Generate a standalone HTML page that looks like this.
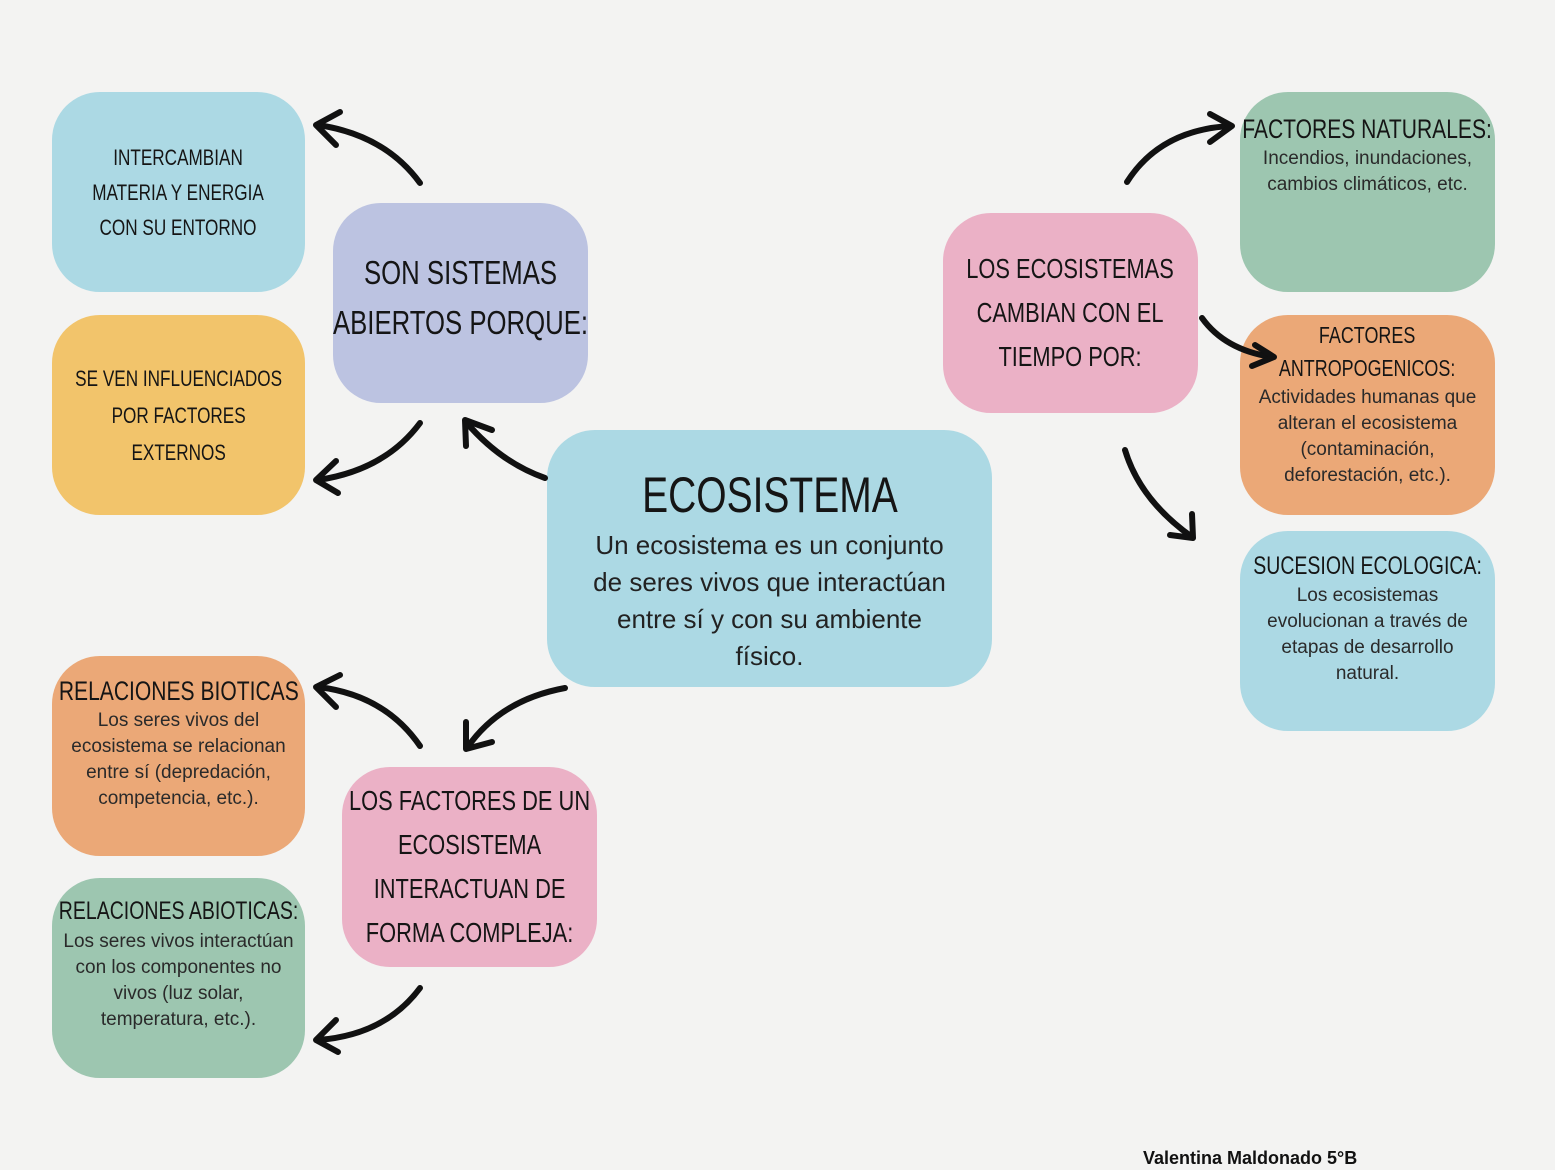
<!DOCTYPE html>
<html><head><meta charset="utf-8"><style>
html,body{margin:0;padding:0}
body{width:1555px;height:1170px;position:relative;overflow:hidden;background:#f3f3f2;font-family:"Liberation Sans",sans-serif;color:#1a1a1a}
.b{position:absolute;border-radius:48px;display:flex;flex-direction:column;align-items:center;justify-content:center;text-align:center;box-sizing:border-box}
.h{font-family:"Liberation Sans",sans-serif;text-transform:uppercase;color:#151515;white-space:nowrap}
.h span{display:inline-block;transform:scaleX(.78);white-space:nowrap}
.p{font-size:19px;line-height:26px;color:#2a2a2a;white-space:nowrap}
svg{position:absolute;left:0;top:0}
</style></head><body>
<div class="b h" style="left:52px;top:92px;width:253px;height:200px;background:#acd9e4;font-size:22px;line-height:35px"><span>Intercambian<br>materia y energia<br>con su entorno</span></div>
<div class="b h" style="left:52px;top:315px;width:253px;height:200px;background:#f2c46b;font-size:22px;line-height:37px"><span>Se ven influenciados<br>por factores<br>externos</span></div>
<div class="b h" style="left:333px;top:203px;width:255px;height:200px;background:#bcc3e1;font-size:33px;line-height:50px;padding-bottom:10px"><span>Son sistemas<br>abiertos porque:</span></div>
<div class="b" style="left:547px;top:430px;width:445px;height:257px;background:#acd9e4;padding-top:24px">
<div class="h" style="font-size:50px;line-height:56px;margin-bottom:4px"><span>Ecosistema</span></div>
<div style="font-size:26px;line-height:37px;color:#222">Un ecosistema es un conjunto<br>de seres vivos que interactúan<br>entre sí y con su ambiente<br>físico.</div></div>
<div class="b" style="left:52px;top:656px;width:253px;height:200px;background:#eba877;justify-content:flex-start;padding-top:18px">
<div class="h" style="font-size:27px;line-height:34px"><span>Relaciones bioticas</span></div>
<div class="p">Los seres vivos del<br>ecosistema se relacionan<br>entre sí (depredación,<br>competencia, etc.).</div></div>
<div class="b" style="left:52px;top:878px;width:253px;height:200px;background:#9dc6b0;justify-content:flex-start;padding-top:15px">
<div class="h" style="font-size:25px;line-height:36px"><span>Relaciones abioticas:</span></div>
<div class="p">Los seres vivos interactúan<br>con los componentes no<br>vivos (luz solar,<br>temperatura, etc.).</div></div>
<div class="b h" style="left:342px;top:767px;width:255px;height:200px;background:#ebb1c6;font-size:28px;line-height:44px"><span>Los factores de un<br>ecosistema<br>interactuan de<br>forma compleja:</span></div>
<div class="b h" style="left:943px;top:213px;width:255px;height:200px;background:#ebb1c6;font-size:28px;line-height:44px"><span>Los ecosistemas<br>cambian con el<br>tiempo por:</span></div>
<div class="b" style="left:1240px;top:92px;width:255px;height:200px;background:#9dc6b0;justify-content:flex-start;padding-top:20px">
<div class="h" style="font-size:27px;line-height:34px"><span>Factores naturales:</span></div>
<div class="p">Incendios, inundaciones,<br>cambios climáticos, etc.</div></div>
<div class="b" style="left:1240px;top:315px;width:255px;height:200px;background:#eba877;justify-content:flex-start;padding-top:4px">
<div class="h" style="font-size:23px;line-height:33px"><span>Factores<br>antropogenicos:</span></div>
<div class="p">Actividades humanas que<br>alteran el ecosistema<br>(contaminación,<br>deforestación, etc.).</div></div>
<div class="b" style="left:1240px;top:531px;width:255px;height:200px;background:#acd9e4;justify-content:flex-start;padding-top:18px">
<div class="h" style="font-size:25px;line-height:34px"><span>Sucesion ecologica:</span></div>
<div class="p">Los ecosistemas<br>evolucionan a través de<br>etapas de desarrollo<br>natural.</div></div>
<div style="position:absolute;left:1143px;top:1148px;font-weight:bold;font-size:18px;color:#111">Valentina Maldonado 5°B</div>
<svg width="1555" height="1170" fill="none" stroke="#111" stroke-width="6" stroke-linecap="round" stroke-linejoin="round">
<path d="M420 183 Q385 135 318 125"/><path d="M340 112 L316 125 L336 145"/>
<path d="M420 423 Q385 470 318 480"/><path d="M336 461 L316 480 L338 493"/>
<path d="M545 478 Q500 462 466 422"/><path d="M466 446 L465 420 L492 430"/>
<path d="M420 746 Q385 695 318 687"/><path d="M340 675 L316 687 L336 707"/>
<path d="M565 688 Q500 700 467 748"/><path d="M466 722 L466 749 L492 742"/>
<path d="M420 988 Q385 1035 318 1040"/><path d="M336 1020 L316 1040 L338 1052"/>
<path d="M1127 182 Q1160 130 1230 126"/><path d="M1210 114 L1232 126 L1210 142"/>
<path d="M1202 318 Q1225 350 1272 357"/><path d="M1255 345 L1274 357 L1252 366"/>
<path d="M1125 450 Q1140 500 1192 537"/><path d="M1170 535 L1193 538 L1192 514"/>
</svg>
</body></html>
